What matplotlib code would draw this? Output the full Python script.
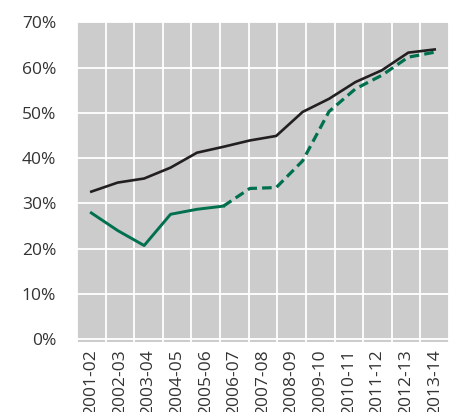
import numpy as np
import matplotlib
matplotlib.use("Agg")
import matplotlib.pyplot as plt
from matplotlib.ticker import FixedLocator

plt.rcParams['font.family'] = ['Open Sans', 'DejaVu Sans']

categories = ["2001-02", "2002-03", "2003-04", "2004-05", "2005-06", "2006-07",
              "2007-08", "2008-09", "2009-10", "2010-11", "2011-12", "2012-13", "2013-14"]
series_black = [32.6, 34.6, 35.5, 37.9, 41.2, 42.5, 43.9, 44.9, 50.2, 53.1, 56.8, 59.4, 63.3, 64.0]
series_green = [27.9, 24.0, 20.7, 27.6, 28.7, 29.4, 33.3, 33.5, 39.4, 50.3, 55.3, 58.3, 62.3, 63.4]
y_ticks = [0, 10, 20, 30, 40, 50, 60, 70]
y_labels = ["0%", "10%", "20%", "30%", "40%", "50%", "60%", "70%"]
solid_count = 6  # green series is solid for first points, dashed after

fig = plt.figure(figsize=(4.57, 4.12), dpi=100)
ax = fig.add_axes([0.1685, 0.170, 0.814, 0.777])
ax.set_facecolor("#cccccc")

n = len(categories)
xs = np.linspace(0, n - 1, len(series_black))

ax.plot(xs, series_black, color="#231f20", lw=1.9, solid_joinstyle="miter", zorder=3)
ax.plot(xs[:solid_count], series_green[:solid_count], color="#00704f", lw=2.1, zorder=3)
ax.plot(xs[solid_count - 1:], series_green[solid_count - 1:], color="#00704f", lw=2.3,
        dashes=(3.0, 1.6), zorder=3)

ax.set_xlim(-0.5, n - 0.5)
ax.set_ylim(-0.6, 70.1)
ax.set_xticks(range(n))
ax.set_xticklabels(categories, rotation=90, fontsize=12.5, color="#333333", va="top")
ax.xaxis.set_minor_locator(FixedLocator(np.arange(-0.5, n + 0.5, 1)))
ax.set_yticks(y_ticks)
ax.set_yticklabels(y_labels, fontsize=12.5, color="#333333")
ax.tick_params(axis="both", which="both", length=0)
ax.tick_params(axis="y", pad=15)
ax.tick_params(axis="x", pad=5)
ax.grid(True, axis="y", which="major", color="white", lw=1.3)
ax.grid(True, axis="x", which="minor", color="white", lw=1.3)
ax.grid(False, axis="x", which="major")
for s in ax.spines.values():
    s.set_visible(False)
ax.set_axisbelow(True)

fig.savefig("out.png", dpi=100)
